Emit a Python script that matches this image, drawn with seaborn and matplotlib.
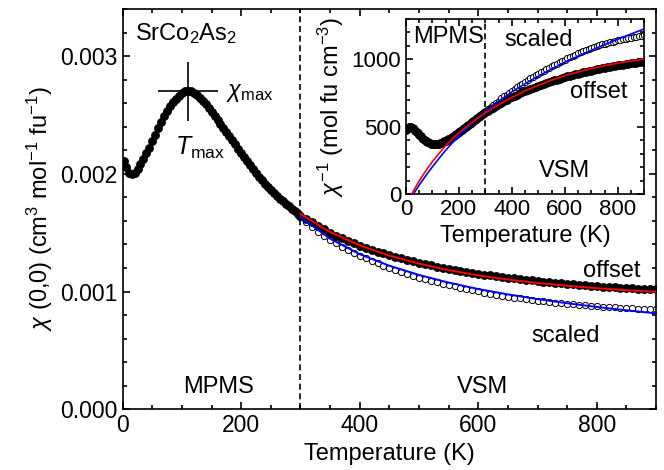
import numpy as np
import pandas as pd
import matplotlib
matplotlib.use('Agg')
import matplotlib.pyplot as plt
import seaborn as sns
from matplotlib.ticker import MultipleLocator, FormatStrFormatter

sns.set_style('ticks')
plt.rcParams['font.family'] = ['Liberation Sans', 'DejaVu Sans']
plt.rcParams['mathtext.fontset'] = 'custom'
plt.rcParams['mathtext.rm'] = 'Liberation Sans'
plt.rcParams['mathtext.it'] = 'Liberation Sans:italic'
plt.rcParams['mathtext.bf'] = 'Liberation Sans:bold'
for key in ['text.color', 'axes.labelcolor', 'xtick.color', 'ytick.color', 'axes.edgecolor']:
    plt.rcParams[key] = 'black'

# MPMS data, chi in 1e-3 cm3/mol
T_mpms = [2] + list(range(5, 301, 5))
chi_mpms = [2.110, 2.060, 2.010, 1.995, 2.005, 2.040, 2.085, 2.130, 2.175, 2.220,
            2.275, 2.330, 2.390, 2.440, 2.490, 2.535, 2.575, 2.610, 2.640, 2.665,
            2.685, 2.700, 2.705, 2.702, 2.690, 2.670, 2.645, 2.618, 2.590, 2.560,
            2.528, 2.495, 2.460, 2.425, 2.390, 2.355, 2.320, 2.285, 2.250, 2.215,
            2.180, 2.145, 2.110, 2.075, 2.040, 2.007, 1.975, 1.945, 1.916, 1.888,
            1.862, 1.837, 1.813, 1.790, 1.767, 1.745, 1.724, 1.703, 1.683, 1.663,
            1.643]

# VSM data, offset (filled) and scaled (open)
T_vsm_off = list(range(310, 901, 10))
chi_vsm_off = [1.617, 1.587, 1.557, 1.528, 1.501, 1.476, 1.452, 1.430, 1.409, 1.390,
               1.372, 1.355, 1.339, 1.324, 1.309, 1.295, 1.282, 1.269, 1.257, 1.245,
               1.234, 1.223, 1.213, 1.203, 1.194, 1.185, 1.176, 1.168, 1.160, 1.152,
               1.145, 1.138, 1.131, 1.124, 1.118, 1.112, 1.106, 1.100, 1.095, 1.090,
               1.085, 1.080, 1.075, 1.071, 1.066, 1.062, 1.058, 1.054, 1.050, 1.047,
               1.043, 1.040, 1.037, 1.034, 1.031, 1.028, 1.026, 1.023, 1.021, 1.019]

T_vsm_sc = list(range(300, 901, 10))
chi_vsm_sc = [1.635, 1.590, 1.548, 1.509, 1.473, 1.440, 1.409, 1.380, 1.353, 1.328,
              1.305, 1.282, 1.260, 1.239, 1.219, 1.200, 1.182, 1.164, 1.147, 1.132,
              1.117, 1.104, 1.091, 1.079, 1.067, 1.055, 1.044, 1.033, 1.022, 1.011,
              1.001, 0.991, 0.982, 0.973, 0.965, 0.957, 0.949, 0.942, 0.935, 0.928,
              0.922, 0.916, 0.910, 0.905, 0.900, 0.895, 0.891, 0.887, 0.883, 0.879,
              0.875, 0.872, 0.869, 0.866, 0.863, 0.860, 0.857, 0.855, 0.853, 0.851,
              0.849]

# fits, as 1/chi (mol fu cm^-3)
T_fit_off = [22, 30, 40, 50, 60, 80, 100, 125, 150, 175, 200, 250, 300, 350, 400,
             450, 500, 550, 600, 650, 700, 750, 800, 850, 900]
inv_fit_off = [0, 29, 64, 97, 128, 187, 241, 302, 360, 410, 455, 534, 603, 664, 718,
               766, 808, 846, 879, 907, 932, 953, 972, 988, 1003]
T_fit_sc = [28, 35, 40, 50, 60, 80, 100, 125, 150, 175, 200, 250, 300, 350, 400,
            450, 500, 550, 600, 650, 700, 750, 800, 850, 900]
inv_fit_sc = [0, 21, 36, 66, 95, 150, 203, 265, 325, 380, 432, 527, 613, 690, 759,
              820, 876, 929, 979, 1024, 1068, 1110, 1150, 1189, 1227]

T_max, chi_max = 110, 0.0027

black = pd.DataFrame({'T': T_mpms + T_vsm_off,
                      'chi': np.array(chi_mpms + chi_vsm_off) * 1e-3})
black['inv'] = 1 / black['chi']
scaled = pd.DataFrame({'T': T_vsm_sc, 'chi': np.array(chi_vsm_sc) * 1e-3})
scaled['inv'] = 1 / scaled['chi']
fit_off = pd.DataFrame({'T': T_fit_off, 'inv': inv_fit_off})
fit_sc = pd.DataFrame({'T': T_fit_sc, 'inv': inv_fit_sc})
fit_off_hi = fit_off[fit_off['T'] >= 300].assign(chi=lambda d: 1 / d['inv'])
fit_sc_hi = fit_sc[fit_sc['T'] >= 300].assign(chi=lambda d: 1 / d['inv'])

fs = 17
fig = plt.figure(figsize=(6.64, 4.70), dpi=100)
ax = fig.add_axes([0.1848, 0.1291, 0.8032, 0.8517])

sns.scatterplot(data=scaled, x='T', y='chi', ax=ax, color='white', edgecolor='black',
                s=20, linewidth=0.7, zorder=2)
sns.scatterplot(data=black, x='T', y='chi', ax=ax, color='black', edgecolor='black',
                s=34, linewidth=0.5, zorder=3)
sns.lineplot(data=fit_sc_hi, x='T', y='chi', ax=ax, color='blue', lw=1.4, zorder=4)
sns.lineplot(data=fit_off_hi, x='T', y='chi', ax=ax, color='red', lw=1.4, zorder=4)
ax.axvline(300, color='black', ls=(0, (3.6, 2.2)), lw=1.2, zorder=1)
ax.errorbar(T_max, chi_max, xerr=51, yerr=0.00025, color='black', lw=1.2, capsize=0, zorder=5)

ax.set_xlim(0, 900)
ax.set_ylim(0, 0.0034)
ax.xaxis.set_major_locator(MultipleLocator(200))
ax.xaxis.set_minor_locator(MultipleLocator(50))
ax.yaxis.set_major_locator(MultipleLocator(0.001))
ax.yaxis.set_minor_locator(MultipleLocator(0.0002))
ax.yaxis.set_major_formatter(FormatStrFormatter('%.3f'))
ax.tick_params(which='both', direction='in', top=True, right=True, width=1.2, labelsize=16.5)
ax.tick_params(which='major', length=5)
ax.tick_params(which='minor', length=3)
for s in ax.spines.values():
    s.set_linewidth(1.2)
ax.set_xlabel('Temperature (K)', fontsize=fs)
ax.set_ylabel(r'$\chi$ (0,0) (cm$^{3}$ mol$^{-1}$ fu$^{-1}$)', fontsize=fs)

ax.text(21, 0.003137, r'SrCo$_2$As$_2$', fontsize=fs, va='baseline')
ax.text(175, 0.002655, r'$\chi_{\rm max}$', fontsize=fs, va='baseline')
ax.text(88, 0.002164, r'$T_{\rm max}$', fontsize=18, va='baseline')
ax.text(162, 0.000136, 'MPMS', fontsize=fs, ha='center', va='baseline')
ax.text(608, 0.000136, 'VSM', fontsize=fs, ha='center', va='baseline')
ax.text(825, 0.001128, 'offset', fontsize=fs, ha='center', va='baseline')
ax.text(747, 0.000575, 'scaled', fontsize=fs, ha='center', va='baseline')

# inset: inverse susceptibility
axin = fig.add_axes([0.6114, 0.5872, 0.3589, 0.3723])
sns.scatterplot(data=scaled, x='T', y='inv', ax=axin, color='white', edgecolor='black',
                s=20, linewidth=0.7, zorder=2)
sns.scatterplot(data=black, x='T', y='inv', ax=axin, color='black', edgecolor='black',
                s=32, linewidth=0.5, zorder=3)
sns.lineplot(data=fit_sc, x='T', y='inv', ax=axin, color='blue', lw=1.2, zorder=4)
sns.lineplot(data=fit_off, x='T', y='inv', ax=axin, color='red', lw=1.2, zorder=4)
axin.axvline(300, color='black', ls=(0, (3.6, 2.2)), lw=1.2, zorder=1)
axin.set_xlim(0, 900)
axin.set_ylim(0, 1300)
axin.xaxis.set_major_locator(MultipleLocator(200))
axin.xaxis.set_minor_locator(MultipleLocator(50))
axin.yaxis.set_major_locator(MultipleLocator(500))
axin.yaxis.set_minor_locator(MultipleLocator(100))
axin.tick_params(which='both', direction='in', top=True, right=True, width=1.2, labelsize=16)
axin.tick_params(which='major', length=5)
axin.tick_params(which='minor', length=3)
for s in axin.spines.values():
    s.set_linewidth(1.2)
axin.set_xlabel('Temperature (K)', fontsize=fs)
axin.set_ylabel(r'$\chi^{-1}$ (mol fu cm$^{-3}$)', fontsize=fs)
axin.text(27, 1124, 'MPMS', fontsize=fs, va='baseline')
axin.text(502, 1099, 'scaled', fontsize=fs, ha='center', va='baseline')
axin.text(729, 715, 'offset', fontsize=fs, ha='center', va='baseline')
axin.text(600, 129, 'VSM', fontsize=fs, ha='center', va='baseline')

fig.savefig('out.png', dpi=100)
